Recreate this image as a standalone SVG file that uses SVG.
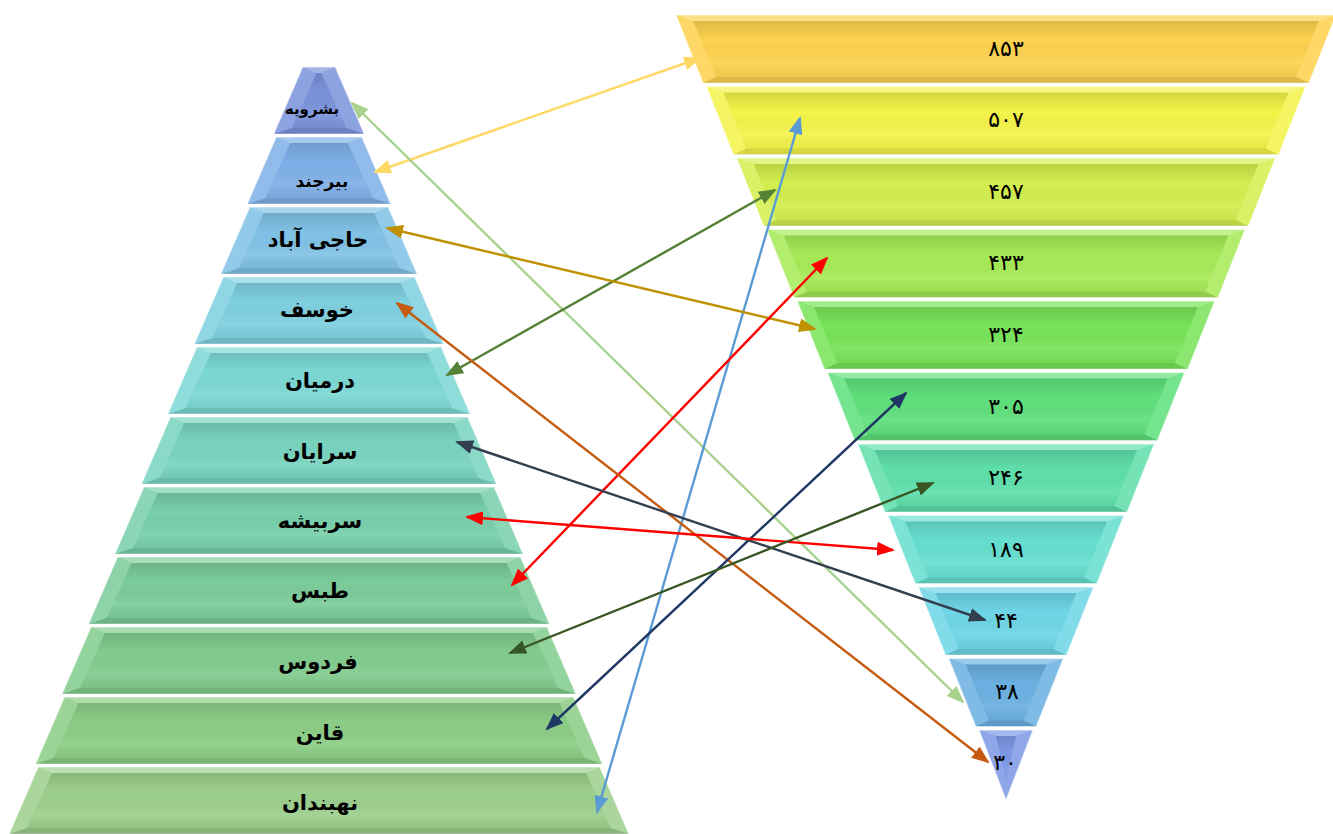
<svg xmlns="http://www.w3.org/2000/svg" width="1333" height="834" viewBox="0 0 1333 834">
<style>
.base{stroke:#ffffff;stroke-opacity:.55;stroke-width:1.2}
.ft{fill:#fff;fill-opacity:.32}
.fs{fill:#fff;fill-opacity:.14}
.fb{fill:#000;fill-opacity:.12}
.in{fill:url(#shade)}
.lbl{font-family:"DejaVu Sans",sans-serif;font-weight:bold;font-size:21px;text-anchor:middle;fill:#000}
.num{font-family:"DejaVu Sans",sans-serif;font-size:22px;text-anchor:middle;fill:#000}
.ar{fill:none;stroke-width:2.4}
</style>
<defs>
<linearGradient id="shade" x1="0" y1="0" x2="0" y2="1">
<stop offset="0" stop-color="#000" stop-opacity=".12"/>
<stop offset=".35" stop-color="#000" stop-opacity="0"/>
<stop offset=".75" stop-color="#fff" stop-opacity=".08"/>
<stop offset="1" stop-color="#000" stop-opacity=".05"/>
</linearGradient>
<marker id="mYel" markerUnits="userSpaceOnUse" markerWidth="18" markerHeight="14" refX="16" refY="7" orient="auto-start-reverse"><path d="M0,0 L18,7 L0,14 Z" fill="#ffd966"/></marker>
<marker id="mLgr" markerUnits="userSpaceOnUse" markerWidth="18" markerHeight="14" refX="16" refY="7" orient="auto-start-reverse"><path d="M0,0 L18,7 L0,14 Z" fill="#a9d18e"/></marker>
<marker id="mBlu" markerUnits="userSpaceOnUse" markerWidth="18" markerHeight="14" refX="16" refY="7" orient="auto-start-reverse"><path d="M0,0 L18,7 L0,14 Z" fill="#5b9bd5"/></marker>
<marker id="mDgr" markerUnits="userSpaceOnUse" markerWidth="18" markerHeight="14" refX="16" refY="7" orient="auto-start-reverse"><path d="M0,0 L18,7 L0,14 Z" fill="#538135"/></marker>
<marker id="mGld" markerUnits="userSpaceOnUse" markerWidth="18" markerHeight="14" refX="16" refY="7" orient="auto-start-reverse"><path d="M0,0 L18,7 L0,14 Z" fill="#bf9000"/></marker>
<marker id="mRed" markerUnits="userSpaceOnUse" markerWidth="18" markerHeight="14" refX="16" refY="7" orient="auto-start-reverse"><path d="M0,0 L18,7 L0,14 Z" fill="#ff0000"/></marker>
<marker id="mOra" markerUnits="userSpaceOnUse" markerWidth="18" markerHeight="14" refX="16" refY="7" orient="auto-start-reverse"><path d="M0,0 L18,7 L0,14 Z" fill="#c55a11"/></marker>
<marker id="mNav" markerUnits="userSpaceOnUse" markerWidth="18" markerHeight="14" refX="16" refY="7" orient="auto-start-reverse"><path d="M0,0 L18,7 L0,14 Z" fill="#1f3864"/></marker>
<marker id="mSla" markerUnits="userSpaceOnUse" markerWidth="18" markerHeight="14" refX="16" refY="7" orient="auto-start-reverse"><path d="M0,0 L18,7 L0,14 Z" fill="#333f50"/></marker>
<marker id="mOlv" markerUnits="userSpaceOnUse" markerWidth="18" markerHeight="14" refX="16" refY="7" orient="auto-start-reverse"><path d="M0,0 L18,7 L0,14 Z" fill="#375623"/></marker>
</defs>
<rect width="1333" height="834" fill="#ffffff"/>

<!-- Left pyramid -->
<g id="L0">
<polygon class="base" fill="#7b93dc" points="302.7,67 335.3,67 364.3,134 273.7,134"/>
<polygon class="ft" points="302.7,67 335.3,67 321.3,73 316.7,73"/>
<polygon class="fs" points="302.7,67 316.7,73 291.7,128 273.7,134"/>
<polygon class="fs" points="335.3,67 364.3,134 346.3,128 321.3,73"/>
<polygon class="fb" points="273.7,134 291.7,128 346.3,128 364.3,134"/>
<polygon class="in" points="316.7,73 321.3,73 346.3,128 291.7,128"/>
<text class="lbl" x="312" y="114" style="font-size:15px">بشرویه</text>
</g>
<g id="L1">
<polygon class="base" fill="#7fb0e8" points="276.2,137 361.8,137 390.8,204 247.2,204"/>
<polygon class="ft" points="276.2,137 361.8,137 347.8,143 290.2,143"/>
<polygon class="fs" points="276.2,137 290.2,143 265.2,198 247.2,204"/>
<polygon class="fs" points="361.8,137 390.8,204 372.8,198 347.8,143"/>
<polygon class="fb" points="247.2,204 265.2,198 372.8,198 390.8,204"/>
<polygon class="in" points="290.2,143 347.8,143 372.8,198 265.2,198"/>
<text class="lbl" x="322" y="187" style="font-size:17px">بیرجند</text>
</g>
<g id="L2">
<polygon class="base" fill="#80c2e6" points="249.8,207 388.2,207 417.2,274 220.8,274"/>
<polygon class="ft" points="249.8,207 388.2,207 374.2,213 263.8,213"/>
<polygon class="fs" points="249.8,207 263.8,213 238.8,268 220.8,274"/>
<polygon class="fs" points="388.2,207 417.2,274 399.2,268 374.2,213"/>
<polygon class="fb" points="220.8,274 238.8,268 399.2,268 417.2,274"/>
<polygon class="in" points="263.8,213 374.2,213 399.2,268 238.8,268"/>
<text class="lbl" x="318" y="247">حاجی آباد</text>
</g>
<g id="L3">
<polygon class="base" fill="#7fd0e0" points="223.3,277 414.7,277 443.7,344 194.3,344"/>
<polygon class="ft" points="223.3,277 414.7,277 400.7,283 237.3,283"/>
<polygon class="fs" points="223.3,277 237.3,283 212.3,338 194.3,344"/>
<polygon class="fs" points="414.7,277 443.7,344 425.7,338 400.7,283"/>
<polygon class="fb" points="194.3,344 212.3,338 425.7,338 443.7,344"/>
<polygon class="in" points="237.3,283 400.7,283 425.7,338 212.3,338"/>
<text class="lbl" x="317" y="317">خوسف</text>
</g>
<g id="L4">
<polygon class="base" fill="#7cd8d4" points="196.8,347 441.2,347 470.2,414 167.8,414"/>
<polygon class="ft" points="196.8,347 441.2,347 427.2,353 210.8,353"/>
<polygon class="fs" points="196.8,347 210.8,353 185.8,408 167.8,414"/>
<polygon class="fs" points="441.2,347 470.2,414 452.2,408 427.2,353"/>
<polygon class="fb" points="167.8,414 185.8,408 452.2,408 470.2,414"/>
<polygon class="in" points="210.8,353 427.2,353 452.2,408 185.8,408"/>
<text class="lbl" x="320" y="388">درمیان</text>
</g>
<g id="L5">
<polygon class="base" fill="#79d4c0" points="170.4,417 467.6,417 496.6,484 141.4,484"/>
<polygon class="ft" points="170.4,417 467.6,417 453.6,423 184.4,423"/>
<polygon class="fs" points="170.4,417 184.4,423 159.4,478 141.4,484"/>
<polygon class="fs" points="467.6,417 496.6,484 478.6,478 453.6,423"/>
<polygon class="fb" points="141.4,484 159.4,478 478.6,478 496.6,484"/>
<polygon class="in" points="184.4,423 453.6,423 478.6,478 159.4,478"/>
<text class="lbl" x="320" y="459">سرایان</text>
</g>
<g id="L6">
<polygon class="base" fill="#78d0ac" points="143.9,487 494.1,487 523.1,554 114.9,554"/>
<polygon class="ft" points="143.9,487 494.1,487 480.1,493 157.9,493"/>
<polygon class="fs" points="143.9,487 157.9,493 132.9,548 114.9,554"/>
<polygon class="fs" points="494.1,487 523.1,554 505.1,548 480.1,493"/>
<polygon class="fb" points="114.9,554 132.9,548 505.1,548 523.1,554"/>
<polygon class="in" points="157.9,493 480.1,493 505.1,548 132.9,548"/>
<text class="lbl" x="320" y="528">سربیشه</text>
</g>
<g id="L7">
<polygon class="base" fill="#7ccc9a" points="117.5,557 520.5,557 549.5,624 88.5,624"/>
<polygon class="ft" points="117.5,557 520.5,557 506.5,563 131.5,563"/>
<polygon class="fs" points="117.5,557 131.5,563 106.5,618 88.5,624"/>
<polygon class="fs" points="520.5,557 549.5,624 531.5,618 506.5,563"/>
<polygon class="fb" points="88.5,624 106.5,618 531.5,618 549.5,624"/>
<polygon class="in" points="131.5,563 506.5,563 531.5,618 106.5,618"/>
<text class="lbl" x="320" y="598">طبس</text>
</g>
<g id="L8">
<polygon class="base" fill="#82cc8e" points="91,627 547,627 576,694 62,694"/>
<polygon class="ft" points="91,627 547,627 533,633 105,633"/>
<polygon class="fs" points="91,627 105,633 80,688 62,694"/>
<polygon class="fs" points="547,627 576,694 558,688 533,633"/>
<polygon class="fb" points="62,694 80,688 558,688 576,694"/>
<polygon class="in" points="105,633 533,633 558,688 80,688"/>
<text class="lbl" x="318" y="669">فردوس</text>
</g>
<g id="L9">
<polygon class="base" fill="#8ccd86" points="64.5,697 573.5,697 602.5,764 35.5,764"/>
<polygon class="ft" points="64.5,697 573.5,697 559.5,703 78.5,703"/>
<polygon class="fs" points="64.5,697 78.5,703 53.5,758 35.5,764"/>
<polygon class="fs" points="573.5,697 602.5,764 584.5,758 559.5,703"/>
<polygon class="fb" points="35.5,764 53.5,758 584.5,758 602.5,764"/>
<polygon class="in" points="78.5,703 559.5,703 584.5,758 53.5,758"/>
<text class="lbl" x="320" y="740">قاین</text>
</g>
<g id="L10">
<polygon class="base" fill="#9ccf8c" points="38.1,767 599.9,767 628.9,834 9.1,834"/>
<polygon class="ft" points="38.1,767 599.9,767 585.9,773 52.1,773"/>
<polygon class="fs" points="38.1,767 52.1,773 27.1,828 9.1,834"/>
<polygon class="fs" points="599.9,767 628.9,834 610.9,828 585.9,773"/>
<polygon class="fb" points="9.1,834 27.1,828 610.9,828 628.9,834"/>
<polygon class="in" points="52.1,773 585.9,773 610.9,828 27.1,828"/>
<text class="lbl" x="320" y="810">نهبندان</text>
</g>

<!-- Right inverted pyramid -->
<g id="R0">
<polygon class="base" fill="#fdd24f" points="676,15 1336,15 1309,83 703,83"/>
<polygon class="ft" points="676,15 1336,15 1319,21 693,21"/>
<polygon class="fs" points="676,15 693,21 716,77 703,83"/>
<polygon class="fs" points="1336,15 1309,83 1296,77 1319,21"/>
<polygon class="fb" points="703,83 716,77 1296,77 1309,83"/>
<polygon class="in" points="693,21 1319,21 1296,77 716,77"/>
<text class="num" x="1006" y="56">۸۵۳</text>
</g>
<g id="R1">
<polygon class="base" fill="#f4f44a" points="706.3,86.5 1305.7,86.5 1278.7,154.5 733.3,154.5"/>
<polygon class="ft" points="706.3,86.5 1305.7,86.5 1288.7,92.5 723.3,92.5"/>
<polygon class="fs" points="706.3,86.5 723.3,92.5 746.3,148.5 733.3,154.5"/>
<polygon class="fs" points="1305.7,86.5 1278.7,154.5 1265.7,148.5 1288.7,92.5"/>
<polygon class="fb" points="733.3,154.5 746.3,148.5 1265.7,148.5 1278.7,154.5"/>
<polygon class="in" points="723.3,92.5 1288.7,92.5 1265.7,148.5 746.3,148.5"/>
<text class="num" x="1006" y="127">۵۰۷</text>
</g>
<g id="R2">
<polygon class="base" fill="#d2ef4e" points="736.6,158 1275.4,158 1248.4,226 763.6,226"/>
<polygon class="ft" points="736.6,158 1275.4,158 1258.4,164 753.6,164"/>
<polygon class="fs" points="736.6,158 753.6,164 776.6,220 763.6,226"/>
<polygon class="fs" points="1275.4,158 1248.4,226 1235.4,220 1258.4,164"/>
<polygon class="fb" points="763.6,226 776.6,220 1235.4,220 1248.4,226"/>
<polygon class="in" points="753.6,164 1258.4,164 1235.4,220 776.6,220"/>
<text class="num" x="1006" y="199">۴۵۷</text>
</g>
<g id="R3">
<polygon class="base" fill="#a6ea56" points="766.9,229.5 1245.1,229.5 1218.1,297.5 793.9,297.5"/>
<polygon class="ft" points="766.9,229.5 1245.1,229.5 1228.1,235.5 783.9,235.5"/>
<polygon class="fs" points="766.9,229.5 783.9,235.5 806.9,291.5 793.9,297.5"/>
<polygon class="fs" points="1245.1,229.5 1218.1,297.5 1205.1,291.5 1228.1,235.5"/>
<polygon class="fb" points="793.9,297.5 806.9,291.5 1205.1,291.5 1218.1,297.5"/>
<polygon class="in" points="783.9,235.5 1228.1,235.5 1205.1,291.5 806.9,291.5"/>
<text class="num" x="1006" y="270">۴۳۳</text>
</g>
<g id="R4">
<polygon class="base" fill="#78e459" points="797.2,301 1214.8,301 1187.8,369 824.2,369"/>
<polygon class="ft" points="797.2,301 1214.8,301 1197.8,307 814.2,307"/>
<polygon class="fs" points="797.2,301 814.2,307 837.2,363 824.2,369"/>
<polygon class="fs" points="1214.8,301 1187.8,369 1174.8,363 1197.8,307"/>
<polygon class="fb" points="824.2,369 837.2,363 1174.8,363 1187.8,369"/>
<polygon class="in" points="814.2,307 1197.8,307 1174.8,363 837.2,363"/>
<text class="num" x="1006" y="342">۳۲۴</text>
</g>
<g id="R5">
<polygon class="base" fill="#5fe07c" points="827.5,372.5 1184.5,372.5 1157.5,440.5 854.5,440.5"/>
<polygon class="ft" points="827.5,372.5 1184.5,372.5 1167.5,378.5 844.5,378.5"/>
<polygon class="fs" points="827.5,372.5 844.5,378.5 867.5,434.5 854.5,440.5"/>
<polygon class="fs" points="1184.5,372.5 1157.5,440.5 1144.5,434.5 1167.5,378.5"/>
<polygon class="fb" points="854.5,440.5 867.5,434.5 1144.5,434.5 1157.5,440.5"/>
<polygon class="in" points="844.5,378.5 1167.5,378.5 1144.5,434.5 867.5,434.5"/>
<text class="num" x="1006" y="414">۳۰۵</text>
</g>
<g id="R6">
<polygon class="base" fill="#5fdfab" points="857.8,444 1154.2,444 1127.2,512 884.8,512"/>
<polygon class="ft" points="857.8,444 1154.2,444 1137.2,450 874.8,450"/>
<polygon class="fs" points="857.8,444 874.8,450 897.8,506 884.8,512"/>
<polygon class="fs" points="1154.2,444 1127.2,512 1114.2,506 1137.2,450"/>
<polygon class="fb" points="884.8,512 897.8,506 1114.2,506 1127.2,512"/>
<polygon class="in" points="874.8,450 1137.2,450 1114.2,506 897.8,506"/>
<text class="num" x="1006" y="485">۲۴۶</text>
</g>
<g id="R7">
<polygon class="base" fill="#66dfd0" points="888.1,515.5 1123.9,515.5 1096.9,583.5 915.1,583.5"/>
<polygon class="ft" points="888.1,515.5 1123.9,515.5 1106.9,521.5 905.1,521.5"/>
<polygon class="fs" points="888.1,515.5 905.1,521.5 928.1,577.5 915.1,583.5"/>
<polygon class="fs" points="1123.9,515.5 1096.9,583.5 1083.9,577.5 1106.9,521.5"/>
<polygon class="fb" points="915.1,583.5 928.1,577.5 1083.9,577.5 1096.9,583.5"/>
<polygon class="in" points="905.1,521.5 1106.9,521.5 1083.9,577.5 928.1,577.5"/>
<text class="num" x="1006" y="557">۱۸۹</text>
</g>
<g id="R8">
<polygon class="base" fill="#6ed6e6" points="918.4,587 1093.6,587 1066.6,655 945.4,655"/>
<polygon class="ft" points="918.4,587 1093.6,587 1076.6,593 935.4,593"/>
<polygon class="fs" points="918.4,587 935.4,593 958.4,649 945.4,655"/>
<polygon class="fs" points="1093.6,587 1066.6,655 1053.6,649 1076.6,593"/>
<polygon class="fb" points="945.4,655 958.4,649 1053.6,649 1066.6,655"/>
<polygon class="in" points="935.4,593 1076.6,593 1053.6,649 958.4,649"/>
<text class="num" x="1006" y="628">۴۴</text>
</g>
<g id="R9">
<polygon class="base" fill="#6cb0e2" points="948.7,658.5 1063.3,658.5 1036.3,726.5 975.7,726.5"/>
<polygon class="ft" points="948.7,658.5 1063.3,658.5 1046.3,664.5 965.7,664.5"/>
<polygon class="fs" points="948.7,658.5 965.7,664.5 988.7,720.5 975.7,726.5"/>
<polygon class="fs" points="1063.3,658.5 1036.3,726.5 1023.3,720.5 1046.3,664.5"/>
<polygon class="fb" points="975.7,726.5 988.7,720.5 1023.3,720.5 1036.3,726.5"/>
<polygon class="in" points="965.7,664.5 1046.3,664.5 1023.3,720.5 988.7,720.5"/>
<text class="num" x="1007" y="699">۳۸</text>
</g>
<g id="R10">
<polygon class="base" fill="#7d98e6" points="979,730 1033,730 1006,800"/>
<polygon class="ft" points="979,730 1033,730 1016,736 996,736"/>
<polygon class="fs" points="979,730 996,736 1006,780 1006,800"/>
<polygon class="fs" points="1033,730 1006,800 1006,780 1016,736"/>
<polygon class="in" points="996,736 1016,736 1006,780"/>
<text class="num" x="1005" y="770">۳۰</text>
</g>

<!-- Connectors -->
<g id="connectors">
<line class="ar" stroke="#ffd966" x1="375" y1="172" x2="700" y2="58" marker-start="url(#mYel)" marker-end="url(#mYel)"/>
<line class="ar" stroke="#a9d18e" x1="352" y1="103" x2="963" y2="702" marker-start="url(#mLgr)" marker-end="url(#mLgr)"/>
<line class="ar" stroke="#5b9bd5" x1="800" y1="118" x2="597" y2="812" marker-start="url(#mBlu)" marker-end="url(#mBlu)"/>
<line class="ar" stroke="#538135" x1="775" y1="190" x2="447" y2="375" marker-start="url(#mDgr)" marker-end="url(#mDgr)"/>
<line class="ar" stroke="#bf9000" x1="387" y1="228" x2="815" y2="329" marker-start="url(#mGld)" marker-end="url(#mGld)"/>
<line class="ar" stroke="#ff0000" x1="827" y1="258" x2="512" y2="585" marker-start="url(#mRed)" marker-end="url(#mRed)"/>
<line class="ar" stroke="#c55a11" x1="397" y1="303" x2="988" y2="762" marker-start="url(#mOra)" marker-end="url(#mOra)"/>
<line class="ar" stroke="#1f3864" x1="906" y1="393" x2="547" y2="729" marker-start="url(#mNav)" marker-end="url(#mNav)"/>
<line class="ar" stroke="#333f50" x1="457" y1="442" x2="985" y2="620" marker-start="url(#mSla)" marker-end="url(#mSla)"/>
<line class="ar" stroke="#ff0000" x1="467" y1="517" x2="893" y2="550" marker-start="url(#mRed)" marker-end="url(#mRed)"/>
<line class="ar" stroke="#375623" x1="933" y1="483" x2="510" y2="653" marker-start="url(#mOlv)" marker-end="url(#mOlv)"/>
</g>
</svg>
